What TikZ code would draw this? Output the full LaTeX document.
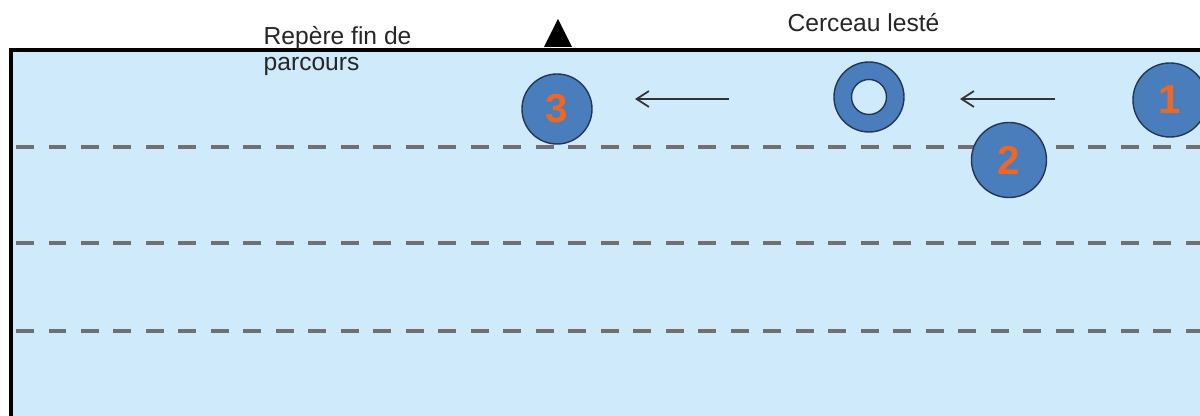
\documentclass[tikz,border=0pt]{standalone}
\usepackage{fontspec}
\setmainfont{Liberation Sans}
\usepackage{tikz}
\usetikzlibrary{arrows.meta}
\definecolor{bassin}{RGB}{207,234,250}
\definecolor{plot}{RGB}{74,125,187}
\definecolor{plotbord}{RGB}{35,55,85}
\definecolor{chiffre}{RGB}{238,104,36}
\definecolor{ligne}{RGB}{112,112,112}
\tikzset{
	joueur/.style={circle, draw=plotbord, line width=0.4pt, fill=plot, minimum size=#1, inner sep=0pt, text=chiffre, font=\fontsize{11.5}{12}\selectfont\bfseries},
	couloir/.style={draw=ligne, line width=1.1pt, dash pattern=on 0.18cm off 0.145cm},
	fleche/.style={-{Straight Barb[length=3.5pt,width=4.5pt]}, draw=black!80, line width=0.5pt},
	legende/.style={text=black!85, font=\fontsize{7}{7.4}\selectfont, inner sep=0pt}
}

\begin{document}
\begin{tikzpicture}
			%%%%% START %%%%%
			\useasboundingbox (0, 0) rectangle (12, 4.16);
			\fill[bassin] (0.11, 0) rectangle (12.5, 3.66);
			
			\foreach \y in {2.69, 1.73, 0.85}
				\draw[couloir] (0.16, \y) -- (12.2, \y);
			
			\draw[line width=1.14pt] (0.11, -0.1) -- (0.11, 3.66) -- (12.5, 3.66);
			\fill[black] (5.44, 3.69) -- (5.58, 3.97) -- (5.72, 3.69) -- cycle;
			
			\node[legende, align=left, anchor=north west] (repere) at (2.63, 3.90) {Repère fin de\\parcours};
			\node[legende, anchor=base] (legcerceau) at (8.635, 3.84) {Cerceau lesté};
			
			\node[joueur=0.74cm] (j1) at (11.70, 3.16) {1};
			\node[joueur=0.75cm] (j2) at (10.09, 2.56) {2};
			\node[joueur=0.70cm] (j3) at (5.57, 3.07) {3};
			
			\node[circle, draw=plotbord, line width=0.4pt, fill=plot, minimum size=0.70cm, inner sep=0pt] (cerceau) at (8.69, 3.19) {};
			\draw[plotbord, line width=0.4pt, fill=bassin] (cerceau.center) circle (0.175);
			
			\coordinate (f1a) at (7.29, 3.17);
			\coordinate (f1b) at (6.35, 3.17);
			\coordinate (f2a) at (10.55, 3.17);
			\coordinate (f2b) at (9.60, 3.17);
			\draw[fleche] (f1a) -- (f1b);
			\draw[fleche] (f2a) -- (f2b);
			%%%%% END %%%%%
\end{tikzpicture}
\end{document}
